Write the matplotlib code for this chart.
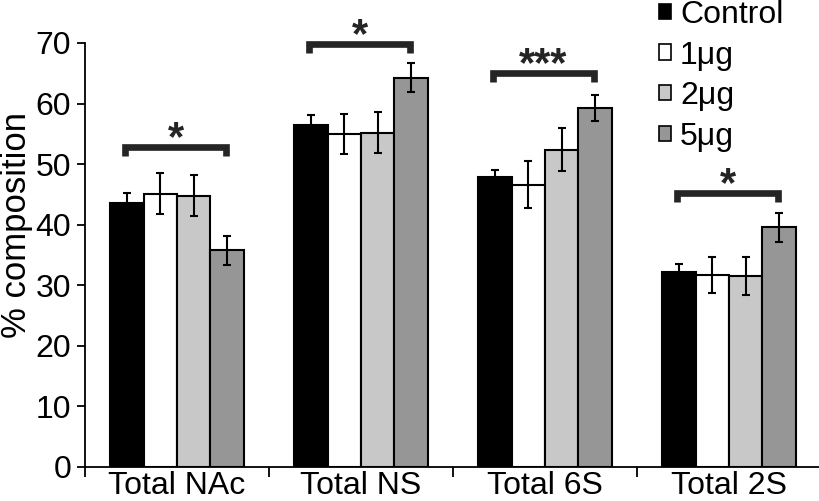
import matplotlib
matplotlib.use("Agg")
import matplotlib.pyplot as plt
from matplotlib.patches import Patch
import numpy as np

plt.rcParams['font.family'] = ['Liberation Sans', 'DejaVu Sans']

categories = ["Total NAc", "Total NS", "Total 6S", "Total 2S"]
series = ["Control", "1\u03bcg", "2\u03bcg", "5\u03bcg"]
values = {
    "Control": [43.6, 56.5, 47.8, 32.2],
    "1\u03bcg":   [45.1, 54.9, 46.6, 31.7],
    "2\u03bcg":   [44.8, 55.2, 52.4, 31.5],
    "5\u03bcg":   [35.8, 64.3, 59.3, 39.6],
}
errors = {
    "Control": [1.7, 1.6, 1.2, 1.3],
    "1\u03bcg":   [3.4, 3.3, 3.9, 3.0],
    "2\u03bcg":   [3.4, 3.4, 3.6, 3.1],
    "5\u03bcg":   [2.4, 2.4, 2.1, 2.4],
}
colors = ["#000000", "#ffffff", "#c8c8c8", "#969696"]
sig_y = [52.8, 69.8, 65.0, 45.2]
sig_labels = ["*", "*", "***", "*"]
yticks = [0, 10, 20, 30, 40, 50, 60, 70]

fig = plt.figure(figsize=(8.2, 5.01), dpi=100)
ax = fig.add_axes([85/820, 34/501, 736/820, 424/501])

n = len(series)
bw = 0.182
start = (1 - n * bw) / 2
x = np.arange(len(categories))
for j, s in enumerate(series):
    pos = x + start + bw * (j + 0.5)
    ax.bar(pos, values[s], width=bw, color=colors[j], edgecolor="black",
           linewidth=1.5, zorder=2)
    ax.errorbar(pos, values[s], yerr=errors[s], fmt="none", ecolor="black",
                elinewidth=1.5, capsize=2.8, capthick=1.5, zorder=3)

drop = 1.5
for i in range(len(categories)):
    x0 = i + start + bw * 0.5 - 0.01
    x1 = i + start + bw * (n - 0.5) - 0.005
    yb = sig_y[i]
    ax.plot([x0, x0, x1, x1], [yb - drop, yb, yb, yb - drop], color="#252525",
            lw=4.8, solid_joinstyle="miter", solid_capstyle="butt", zorder=4,
            clip_on=False)
    ax.text((x0 + x1) / 2, yb - 0.4, sig_labels[i], ha="center", va="baseline",
            fontsize=30, fontweight="bold", color="#252525", clip_on=False)

ax.set_xlim(0, len(categories))
ax.set_ylim(0, 70)
ax.set_yticks(yticks)
ax.set_xticks(np.arange(len(categories) + 1))
ax.set_xticklabels([])
ax.set_xticks(x + 0.5, minor=True)
ax.set_xticklabels(categories, minor=True, fontsize=23)
ax.tick_params(axis="x", which="minor", length=0, pad=3)
ax.tick_params(axis="x", which="major", length=7, width=1.3, direction="out")
ax.tick_params(axis="y", length=6, width=1.3, direction="out", labelsize=23, pad=4)
for sp in ["top", "right"]:
    ax.spines[sp].set_visible(False)
for sp in ["left", "bottom"]:
    ax.spines[sp].set_linewidth(1.3)
ax.set_ylabel("% composition", fontsize=25)
ax.yaxis.set_label_coords((33 - 85) / 736, 0.571)

handles = [Patch(facecolor=c, edgecolor="black", linewidth=1.2) for c in colors]
fig.legend(handles, series, loc="upper left", bbox_to_anchor=(659/820, 1.0),
           frameon=False, fontsize=23, handlelength=0.36, handleheight=0.36,
           handletextpad=0.3, labelspacing=0.33, borderpad=0, borderaxespad=0)

fig.savefig("out.png", dpi=100)
